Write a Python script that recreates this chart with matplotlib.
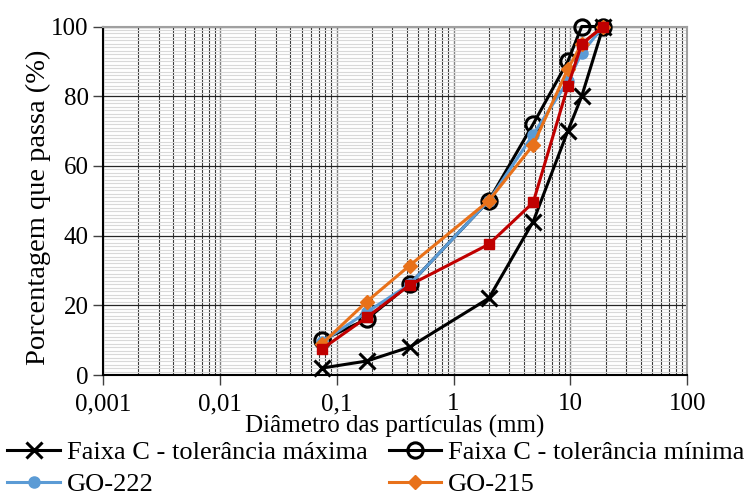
import matplotlib
matplotlib.use("Agg")
import matplotlib.pyplot as plt
from matplotlib.ticker import FixedLocator, LogLocator, NullFormatter, MultipleLocator

diam = [0.075, 0.18, 0.42, 2.0, 4.8, 9.5, 12.5, 19.1]
faixa_max = [2, 4, 8, 22, 44, 70, 80, 100]
faixa_min = [10, 16, 26, 50, 72, 90, 100, 100]
go222 = [9.5, 18, 26, 50, 69, 84.3, 92.4, 100]
go215 = [9, 21, 31.4, 50, 66, 87.8, 95, 100]
red_series = [7.5, 16.5, 25.8, 37.5, 49.5, 82.8, 95, 100]

xticks = [0.001, 0.01, 0.1, 1, 10, 100]
xtick_labels = ["0,001", "0,01", "0,1", "1", "10", "100"]
yticks = [0, 20, 40, 60, 80, 100]

plt.rcParams['font.family'] = ['Liberation Serif', 'DejaVu Serif']
FS = 18

fig = plt.figure(figsize=(7.47, 5.0), dpi=100)
ax = fig.add_axes([0.138, 0.25, 0.782, 0.697])

ax.set_xscale('log')
ax.set_xlim(0.001, 100)
ax.set_ylim(0, 100)

# grid
ax.xaxis.set_minor_locator(LogLocator(base=10, subs=range(2, 10)))
ax.xaxis.set_minor_formatter(NullFormatter())
ax.yaxis.set_minor_locator(MultipleLocator(1))
ax.grid(True, which='major', axis='x', color='#808080', lw=1.0)
ax.grid(True, which='minor', axis='x', color='#3a3a3a', lw=0.8)
ax.grid(True, which='minor', axis='y', color='#d9d9d9', lw=0.8)
ax.grid(True, which='major', axis='y', color='#262626', lw=0.9)
ax.set_axisbelow(True)

ax.xaxis.set_major_locator(FixedLocator(xticks))
ax.set_xticklabels(xtick_labels)
ax.set_yticks(yticks)
ax.tick_params(axis='both', which='major', labelsize=FS, direction='out', length=7, width=1, color='#404040')
ax.tick_params(axis='both', which='minor', length=0)
ax.tick_params(axis='x', pad=6)

for s in ['left', 'bottom']:
    ax.spines[s].set_color('black')
    ax.spines[s].set_linewidth(1.5)
for s in ['top', 'right']:
    ax.spines[s].set_color('#a0a0a0')
    ax.spines[s].set_linewidth(1.5)

l1, = ax.plot(diam, faixa_max, color='black', lw=2.2, marker='x', ms=11, mew=2.2,
              label='Faixa C - tolerância máxima', clip_on=False, zorder=3)
l2, = ax.plot(diam, faixa_min, color='black', lw=2.2, marker='o', ms=11, mew=2.2,
              mfc='none', label='Faixa C - tolerância mínima', clip_on=False, zorder=3)
l3, = ax.plot(diam, go222, color='#5b9bd5', lw=2.2, marker='o', ms=8,
              label='GO-222', clip_on=False, zorder=4)
l4, = ax.plot(diam, go215, color='#e8711a', lw=2.2, marker='D', ms=7,
              label='GO-215', clip_on=False, zorder=5)
l5, = ax.plot(diam, red_series, color='#c00000', lw=2.2, marker='s', ms=7.5,
              clip_on=False, zorder=6)

ax.set_xlabel('Diâmetro das partículas (mm)', fontsize=FS, labelpad=0)
ax.set_ylabel('Porcentagem que passa (%)', fontsize=20.5)
ax.yaxis.set_label_coords(-0.09, 0.48)

fig.legend(handles=[l1, l3, l2, l4], loc='upper left', bbox_to_anchor=(0.01, 0.118), ncol=2,
           frameon=False, fontsize=19, handlelength=2.0, handletextpad=0.25,
           columnspacing=0.8, borderaxespad=0, borderpad=0, labelspacing=0.3,
           bbox_transform=fig.transFigure)

fig.savefig('out.png', dpi=100)
